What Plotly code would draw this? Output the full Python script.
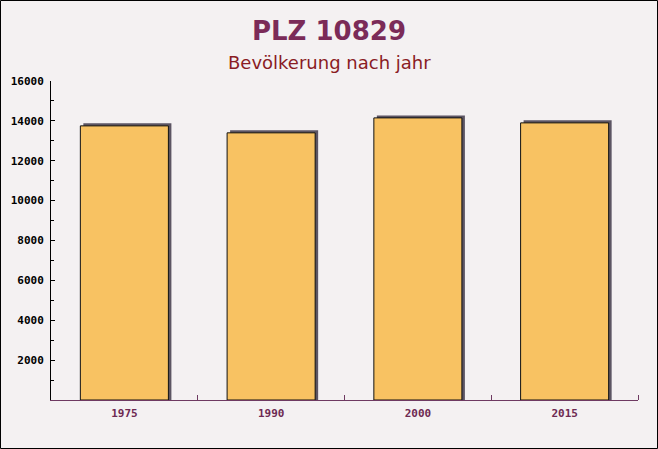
import plotly.graph_objects as go

years = ["1975", "1990", "2000", "2015"]
population = [13750, 13400, 14150, 13900]
y_ticks = [2000, 4000, 6000, 8000, 10000, 12000, 14000, 16000]

W, H = 658, 449
ML, MR, MT, MB = 51, 20, 81, 49
pw, ph = W - ML - MR, H - MT - MB
ymax = 16000

pos = list(range(len(years)))
# shadow offsets in pixels converted to data units
dx = 3.0 * (len(years)) / pw
dy = 2.5 * ymax / ph

fig = go.Figure()
fig.add_trace(go.Bar(
    x=[p + dx for p in pos], y=[v + dy for v in population], width=0.6,
    marker=dict(color="#5c5563", line=dict(width=0)),
    hoverinfo="skip", showlegend=False,
))
fig.add_trace(go.Bar(
    x=pos, y=population, width=0.6,
    marker=dict(color="#f8c262", line=dict(color="#111111", width=1)),
    hoverinfo="skip", showlegend=False,
))

cx = (W / 2 - ML) / pw
fig.update_layout(
    width=W, height=H, barmode="overlay",
    margin=dict(l=ML, r=MR, t=MT, b=MB),
    paper_bgcolor="#f4f1f2", plot_bgcolor="rgba(0,0,0,0)",
    showlegend=False,
    annotations=[
        dict(text="PLZ 10829", x=cx, xref="paper", y=(H - 31 - MB) / ph, yref="paper",
             yanchor="middle", xanchor="center", showarrow=False,
             font=dict(family="DejaVu Sans", size=26, color="#7b2b58", weight="bold")),
        dict(text="Bevölkerung nach jahr", x=cx, xref="paper", y=(H - 63 - MB) / ph, yref="paper",
             yanchor="middle", xanchor="center", showarrow=False,
             font=dict(family="DejaVu Sans", size=18, color="#8a1c24")),
    ],
    shapes=[
        dict(type="rect", xref="paper", yref="paper",
             x0=-(ML - 0.5) / pw, x1=1 + (MR - 0.5) / pw,
             y0=-(MB - 0.5) / ph, y1=1 + (MT - 0.5) / ph,
             line=dict(color="#000000", width=1), layer="above"),
    ],
)

fig.update_xaxes(
    range=[-0.5, len(years) - 0.5],
    tickmode="array", tickvals=pos, ticktext=years,
    ticks="", showgrid=False, zeroline=False,
    showline=True, linecolor="#6e3a62", linewidth=1,
    tickfont=dict(family="DejaVu Sans Mono", size=11, color="#6e2a52", weight="bold"),
    ticklabelstandoff=3,
    minor=dict(tickmode="array", tickvals=[p + 0.5 for p in pos], ticks="inside",
               ticklen=5, tickcolor="#6e3a62", showgrid=False),
    fixedrange=True,
)
fig.update_yaxes(
    range=[0, ymax],
    tickmode="array", tickvals=y_ticks, ticktext=[str(t) for t in y_ticks],
    ticks="inside", ticklen=4, tickcolor="#000000",
    showgrid=False, zeroline=False,
    showline=True, linecolor="#000000", linewidth=1,
    tickfont=dict(family="DejaVu Sans Mono", size=11, color="#000000", weight="bold"),
    minor=dict(dtick=1000, ticks="inside", ticklen=3, tickcolor="#000000", showgrid=False),
    ticklabelstandoff=4,
    fixedrange=True,
)

fig.write_html("out.html", config={"displayModeBar": False})
with open("out.html", encoding="utf-8") as f:
    html = f.read()
html = html.replace("<head>", "<head><style>html,body{margin:0;padding:0;overflow:hidden;}</style>", 1)
with open("out.html", "w", encoding="utf-8") as f:
    f.write(html)
